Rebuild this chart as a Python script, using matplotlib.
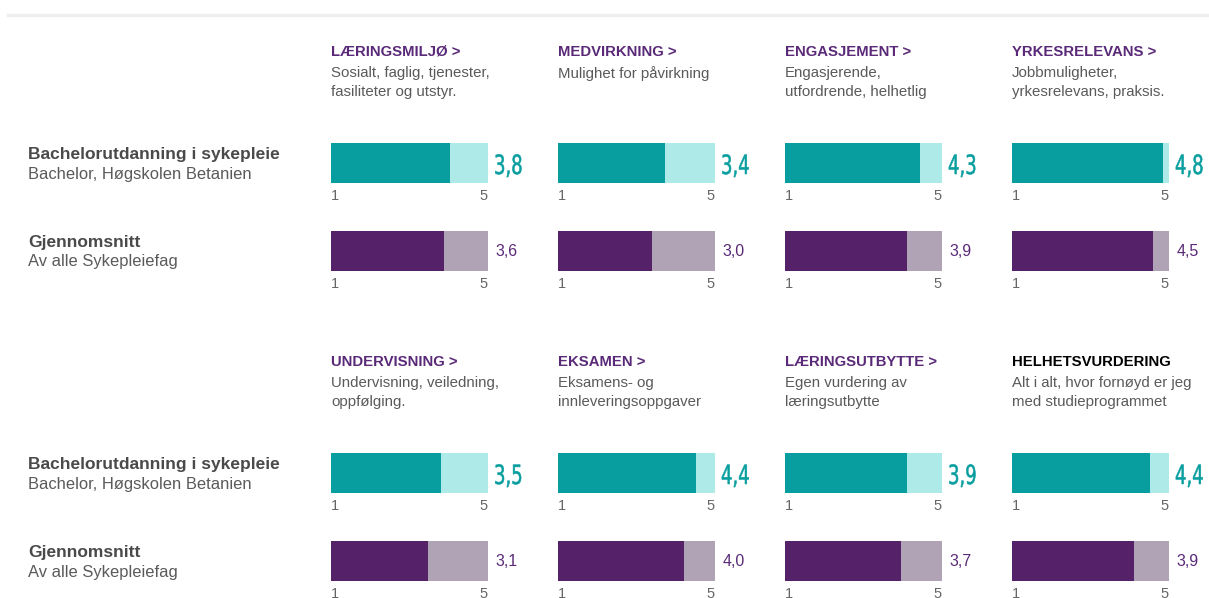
import matplotlib
matplotlib.use("Agg")
import matplotlib.pyplot as plt
from matplotlib.textpath import TextPath
from matplotlib.patches import PathPatch
from matplotlib.font_manager import FontProperties
from matplotlib.transforms import Affine2D

# data
titles_1 = ["LÆRINGSMILJØ >", "MEDVIRKNING >", "ENGASJEMENT >", "YRKESRELEVANS >"]
subs_1 = ["Sosialt, faglig, tjenester,\nfasiliteter og utstyr.", "Mulighet for påvirkning",
          "Engasjerende,\nutfordrende, helhetlig", "Jobbmuligheter,\nyrkesrelevans, praksis."]
prog_1 = [3.8, 3.4, 4.3, 4.8]
avg_1 = [3.6, 3.0, 3.9, 4.5]

titles_2 = ["UNDERVISNING >", "EKSAMEN >", "LÆRINGSUTBYTTE >", "HELHETSVURDERING"]
subs_2 = ["Undervisning, veiledning,\noppfølging.", "Eksamens- og\ninnleveringsoppgaver",
          "Egen vurdering av\nlæringsutbytte", "Alt i alt, hvor fornøyd er jeg\nmed studieprogrammet"]
prog_2 = [3.5, 4.4, 3.9, 4.4]
avg_2 = [3.1, 4.0, 3.7, 3.9]

row_labels = [("Bachelorutdanning i sykepleie", "Bachelor, Høgskolen Betanien"),
              ("Gjennomsnitt", "Av alle Sykepleiefag")]
scale_max = 5
tick_labels = ["1", "5"]

W, H = 1209, 598
fig = plt.figure(figsize=(W / 100, H / 100), dpi=100)
plt.rcParams['font.family'] = ['Liberation Sans', 'DejaVu Sans']

TEAL, TEAL_L = "#089e9f", "#aeebe8"
PURP, PURP_L = "#55226a", "#b0a3b5"
TITLE_C = "#5a2a78"
GRAY = "#5a5a5a"


def fx(x):
    return x / W


def fy(y):
    return 1 - y / H


# top separator line
fig.add_artist(plt.Line2D([fx(8), fx(1209)], [fy(15), fy(15)], color="#eeeeee", lw=2.5))

col_x = [331, 558, 785, 1012]
bar_w = 157
bar_h = 40
big_font = FontProperties(family="DejaVu Sans")


def big_value(txt, x, baseline):
    # narrow, tall number drawn as a squeezed text path (pixels)
    tp = TextPath((0, 0), txt, size=26.5, prop=big_font)
    tr = Affine2D().scale(0.68, 1.0).translate(x, H - baseline)
    fig.add_artist(PathPatch(tp, transform=tr, color=TEAL, lw=0.4))


def bar(x, top, val, dark, light, big):
    ax = fig.add_axes([fx(x), fy(top + bar_h), fx(bar_w), bar_h / H])
    ax.barh([0], [scale_max], color=light, height=1.0)
    ax.barh([0], [val], color=dark, height=1.0)
    ax.set_xlim(0, scale_max)
    ax.set_ylim(-0.5, 0.5)
    ax.set_yticks([])
    ax.set_xticks([0, scale_max])
    ax.set_xticklabels(tick_labels, fontsize=10.5, color="#666666")
    ax.tick_params(axis="x", length=0, pad=4)
    lbls = ax.get_xticklabels()
    lbls[0].set_ha("left")
    lbls[1].set_ha("right")
    for s in ax.spines.values():
        s.set_visible(False)
    txt = f"{val:.1f}".replace(".", ",")
    if big:
        big_value(txt, x + bar_w + 6, top + 31)
    else:
        ax.text(1.05, 0.5, txt, transform=ax.transAxes, ha="left", va="center",
                fontsize=11.5, color=TITLE_C)


def section(off, titles, subs, prog, avg):
    for i, x in enumerate(col_x):
        c = "black" if titles[i] == "HELHETSVURDERING" else TITLE_C
        fig.text(fx(x), fy(52 + off), titles[i], fontsize=10.7, fontweight="bold",
                 color=c, va="center", ha="left")
        fig.text(fx(x), fy(66 + off), subs[i], fontsize=10.8, color=GRAY,
                 va="top", ha="left", linespacing=1.45)
        bar(x, 143 + off, prog[i], TEAL, TEAL_L, True)
        bar(x, 231 + off, avg[i], PURP, PURP_L, False)
    for (head, sub), y in zip(row_labels, [154, 242]):
        fig.text(fx(28), fy(y + off), head, fontsize=12.5, fontweight="bold",
                 color="#4a4a4a", va="center")
        fig.text(fx(28), fy(y + 20 + off), sub, fontsize=11.85, color=GRAY, va="center")


section(0, titles_1, subs_1, prog_1, avg_1)
section(310, titles_2, subs_2, prog_2, avg_2)

fig.savefig("out.png", dpi=100)
